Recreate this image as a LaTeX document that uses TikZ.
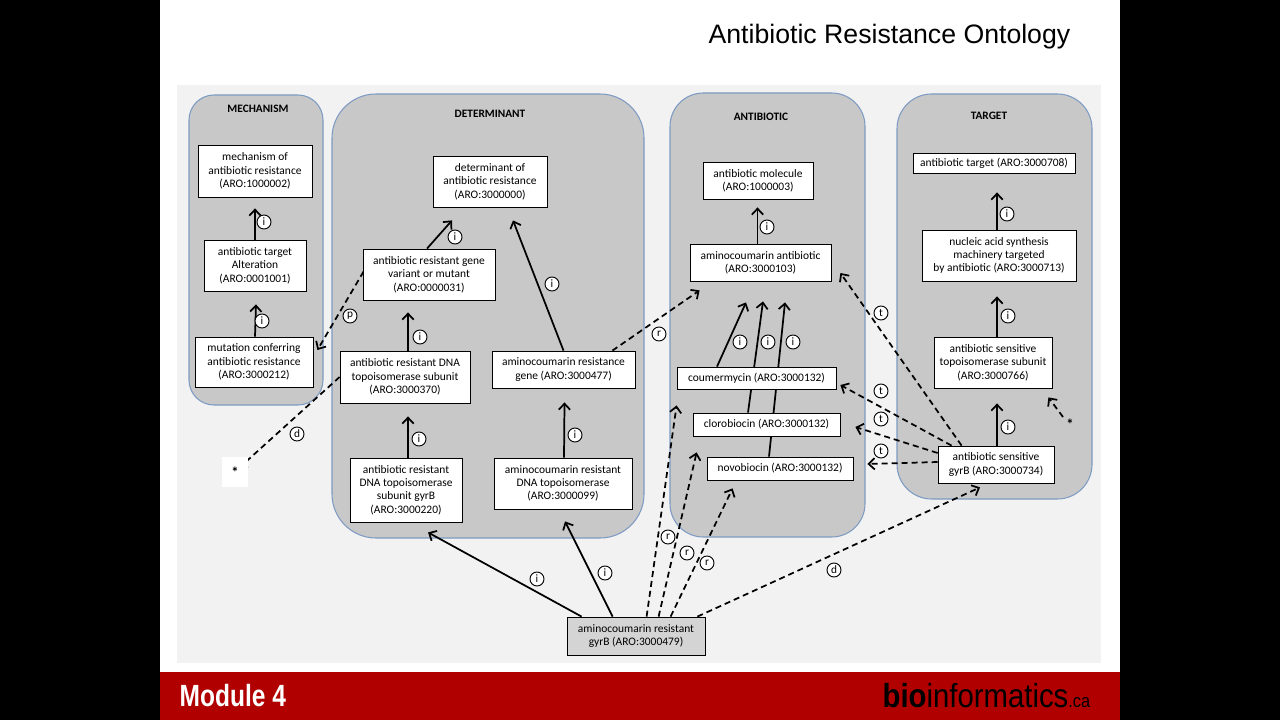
\documentclass[tikz,border=0pt]{standalone}
\usepackage{fontspec}
\setmainfont{Carlito}
\newfontfamily\titlefont{Liberation Sans}
\newfontfamily\footfont[FakeStretch=0.8]{Liberation Sans}
\newfontfamily\biofont[FakeStretch=0.88]{Liberation Sans}
\usetikzlibrary{arrows.meta,calc}
\pgfdeclarelayer{grp}
\pgfdeclarelayer{edges}
\pgfsetlayers{grp,edges,main}
\definecolor{grpfill}{RGB}{200,200,200}
\definecolor{grpline}{RGB}{125,155,195}
\definecolor{panel}{RGB}{242,242,242}
\definecolor{barred}{RGB}{176,0,0}
\definecolor{bfill}{RGB}{212,212,212}
\tikzset{
 box/.style={draw=black, fill=white, line width=0.6pt, align=center, inner sep=1pt, font=\fontsize{8.6}{10}\selectfont},
 sz/.style 2 args={minimum width=#1*0.75pt, minimum height=#2*0.75pt},
 grpbox/.style={draw=grpline, fill=grpfill, line width=0.8pt},
 head/.style={font=\fontsize{8.5}{10}\selectfont\bfseries},
 arr/.style={line width=1.3pt, -{Straight Barb[length=4.5pt,width=8.5pt]}},
 darr/.style={arr, dash pattern=on 4.5pt off 3pt},
 lab/.style={circle, draw=black, fill=white, line width=0.7pt, inner sep=0pt, minimum size=10.5pt, font=\fontsize{8.5}{8.5}\selectfont},
 star/.style={font=\fontsize{11}{11}\selectfont\bfseries, inner sep=0pt}
}
\begin{document}
\begin{tikzpicture}[x=0.75pt,y=-0.75pt]
\useasboundingbox (0,0) rectangle (1280,720);
\begin{pgfonlayer}{grp}
\fill[black] (0,0) rectangle (1280,720);
\fill[white] (160,0) rectangle (1120,672);
\fill[panel] (177,85) rectangle (1101,663);
\fill[barred] (160,672) rectangle (1120,720);
\draw[grpbox, rounded corners=18.75pt] (189,95) rectangle (323,405);
\draw[grpbox, rounded corners=33pt] (332,94) rectangle (644,538);
\draw[grpbox, rounded corners=25pt] (670,93) rectangle (865,537);
\draw[grpbox, rounded corners=26pt] (897,94) rectangle (1092,499);
\end{pgfonlayer}
\node[head] (hm) at (258,109) {MECHANISM};
\node[head] (hd) at (490,114) {DETERMINANT};
\node[head] (ha) at (761,117) {ANTIBIOTIC};
\node[head] (ht) at (989,116) {TARGET};
\node[anchor=east, font=\titlefont\fontsize{20}{24}\selectfont] (title) at (1075,37) {Antibiotic Resistance Ontology};
\node[anchor=west, text=white, font=\footfont\bfseries\fontsize{23}{26}\selectfont] (mod) at (175,696) {Module 4};
\node[anchor=east, font=\biofont\fontsize{25}{28}\selectfont] (bio) at (1095,696) {\textbf{bio}informatics{\fontsize{14}{14}\selectfont.ca}};
% boxes
\node[box, sz={114}{52}] (m1) at (255,171) {mechanism of\\antibiotic resistance\\(ARO:1000002)};
\node[box, sz={102}{51}] (m2) at (255,265.5) {antibiotic target\\Alteration\\(ARO:0001001)};
\node[box, sz={118}{50}] (m3) at (254,362) {mutation conferring\\antibiotic resistance\\(ARO:3000212)};
\node[box, sz={114}{51}] (d1) at (490,181.5) {determinant of\\antibiotic resistance\\(ARO:3000000)};
\node[box, sz={132}{51}] (d2) at (429,274.5) {antibiotic resistant gene\\variant or mutant\\(ARO:0000031)};
\node[box, sz={130}{52}] (d3) at (405,377) {antibiotic resistant DNA\\topoisomerase subunit\\(ARO:3000370)};
\node[box, sz={143}{37}] (d4) at (563.5,369.5) {aminocoumarin resistance\\gene (ARO:3000477)};
\node[box, sz={112}{64}] (d5) at (406,490) {antibiotic resistant\\DNA topoisomerase\\subunit gyrB\\(ARO:3000220)};
\node[box, sz={138}{51}] (d6) at (563,483.5) {aminocoumarin resistant\\DNA topoisomerase\\(ARO:3000099)};
\node[box, sz={110}{37}] (a1) at (758,180.5) {antibiotic molecule\\(ARO:1000003)};
\node[box, sz={141}{37}] (a2) at (760.5,262.5) {aminocoumarin antibiotic\\(ARO:3000103)};
\node[box, sz={159}{22}] (a3) at (756.5,378) {coumermycin (ARO:3000132)};
\node[box, sz={147}{23}] (a4) at (766.5,424.5) {clorobiocin (ARO:3000132)};
\node[box, sz={146}{23}] (a5) at (780,468.5) {novobiocin (ARO:3000132)};
\node[box, sz={162}{20}] (t1) at (994,163) {antibiotic target (ARO:3000708)};
\node[box, sz={154}{51}] (t2) at (999,255.5) {nucleic acid synthesis\\machinery targeted\\by antibiotic (ARO:3000713)};
\node[box, sz={118}{51}] (t3) at (993,362.5) {antibiotic sensitive\\topoisomerase subunit\\(ARO:3000766)};
\node[box, sz={116}{37}] (t4) at (996,464.5) {antibiotic sensitive\\gyrB (ARO:3000734)};
\node[box, fill=bfill, sz={138}{38}] (b) at (636,636) {aminocoumarin resistant\\gyrB (ARO:3000479)};
\node[star, fill=white, sz={26}{30}] (ast1) at (235,472) {*};
\node[star] (ast2) at (1070,424) {*};
% edges
\begin{pgfonlayer}{edges}
\draw[arr] (m2.north) -- ([shift={(0,11)}]m1.south);
\draw[arr] ([shift={(1,0)}]m3.north) -- ([shift={(1,13)}]m2.south);
\draw[arr] ([shift={(-2,0)}]d2.north) -- ([shift={(-38,13)}]d1.south);
\draw[arr] (d4.north) -- ([shift={(23,13)}]d1.south);
\draw[arr] ([shift={(3,0)}]d3.north) -- ([shift={(-21,12)}]d2.south);
\draw[arr] ([shift={(2,0)}]d5.north) -- ([shift={(3,13)}]d3.south);
\draw[arr] ([shift={(1,0)}]d6.north) -- ([shift={(1,14)}]d4.south);
\draw[arr] ([shift={(-3,0)}]a2.north) -- ([shift={(-0.5,8)}]a1.south);
\draw[arr] ([shift={(-39.5,0)}]a3.north) -- ([shift={(-14.5,21)}]a2.south);
\draw[arr] ([shift={(-18.5,0)}]a4.north) -- ([shift={(2.5,20)}]a2.south);
\draw[arr] ([shift={(-11,0)}]a5.north) -- ([shift={(24.5,21)}]a2.south);
\draw[arr] ([shift={(-2,0)}]t2.north) -- ([shift={(3,19)}]t1.south);
\draw[arr] ([shift={(4,0)}]t3.north) -- ([shift={(-2,15)}]t2.south);
\draw[arr] ([shift={(1,0)}]t4.north) -- ([shift={(4,15)}]t3.south);
\draw[darr] ([shift={(-23,0)}]d4.north east) -- ([shift={(10,9)}]a2.south west);
\draw[darr] ([shift={(1,-3)}]d2.west) -- ([shift={(4,-12)}]m3.east);
\draw[darr] (d3.west) -- ([shift={(4,-4)}]ast1.center);
\draw[darr] ([shift={(24,0)}]t4.north west) -- ([shift={(9,10.5)}]a2.east);
\draw[darr] ([shift={(14,0)}]t4.north west) -- ([shift={(4,7)}]a3.east);
\draw[darr] ([shift={(0,-11.5)}]t4.west) -- ([shift={(15,2.5)}]a4.east);
\draw[darr] ([shift={(0,-2.5)}]t4.west) -- ([shift={(14,-4.5)}]a5.east);
\draw[darr] ([shift={(-7,-7)}]ast2.center) -- ([shift={(-4,9)}]t3.south east);
\draw[arr] ([shift={(15,0)}]b.north west) -- ([shift={(22,10)}]d5.south);
\draw[arr] ([shift={(46,0)}]b.north west) -- ([shift={(2,12)}]d6.south);
\draw[darr] ([shift={(80,0)}]b.north west) -- ([shift={(0,16)}]a3.south west);
\draw[darr] ([shift={(92,0)}]b.north west) -- ([shift={(4,16)}]a4.south west);
\draw[darr] ([shift={(104,0)}]b.north west) -- ([shift={(26,8)}]a5.south west);
\draw[darr] ([shift={(-8,0)}]b.north east) -- ([shift={(-16,4)}]t4.south);
\end{pgfonlayer}
% labels
\node[lab] (l1) at (264,222) {i};
\node[lab] (l2) at (262,321) {i};
\node[lab] (l3) at (455,237) {i};
\node[lab] (l4) at (552,284) {i};
\node[lab] (l5) at (420,337) {i};
\node[lab] (l6) at (419,439) {i};
\node[lab] (l7) at (575,435) {i};
\node[lab] (l8) at (767,227) {i};
\node[lab] (l9) at (740,342) {i};
\node[lab] (l10) at (768,342) {i};
\node[lab] (l11) at (793,342) {i};
\node[lab] (l12) at (1007,214) {i};
\node[lab] (l13) at (1008,316) {i};
\node[lab] (l14) at (1008,427) {i};
\node[lab] (l15) at (537,579) {i};
\node[lab] (l16) at (605,573) {i};
\node[lab] (r1) at (659,334) {r};
\node[lab] (r2) at (668,537) {r};
\node[lab] (r3) at (687,553) {r};
\node[lab] (r4) at (707,563) {r};
\node[lab] (p1) at (350,316) {p};
\node[lab] (dl1) at (297,434) {d};
\node[lab] (dl2) at (834,570) {d};
\node[lab] (tl1) at (881,313) {t};
\node[lab] (tl2) at (881,391) {t};
\node[lab] (tl3) at (881,419) {t};
\node[lab] (tl4) at (881,451) {t};
\end{tikzpicture}
\end{document}
